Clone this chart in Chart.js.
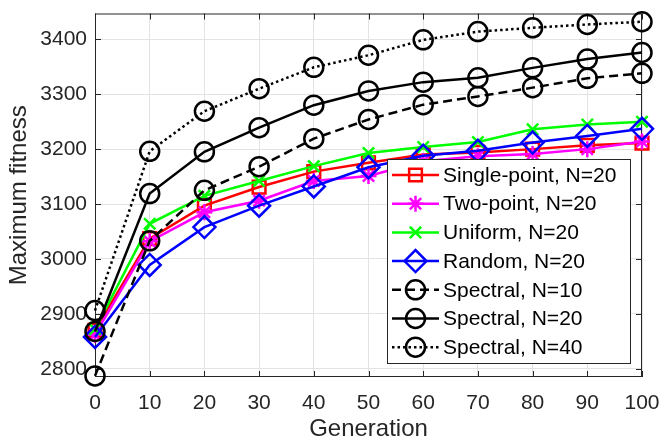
<!DOCTYPE html>
<html>
<head>
<meta charset="utf-8">
<script src="https://cdn.jsdelivr.net/npm/chart.js@4.4.1/dist/chart.umd.min.js"></script>
<style>
html,body{margin:0;padding:0;background:#fff;}
#wrap{width:661px;height:444px;position:relative;}
</style>
</head>
<body>
<div id="wrap"><canvas id="c" width="661" height="444"></canvas></div>
<script>
const generations = [0,10,20,30,40,50,60,70,80,90,100];
const yTicks = [2800,2900,3000,3100,3200,3300,3400];
const seriesNames = ["Single-point, N=20","Two-point, N=20","Uniform, N=20","Random, N=20","Spectral, N=10","Spectral, N=20","Spectral, N=40"];
const singlePoint = [2870,3037,3097,3131,3159,3175,3190,3194,3200,3207,3211];
const twoPoint    = [2862,3032,3085,3106,3142,3151,3178,3187,3191,3200,3214];
const uniform     = [2872,3064,3115,3142,3169,3193,3204,3213,3236,3245,3250];
const randomX     = [2858,2989,3058,3097,3132,3167,3188,3197,3212,3224,3237];
const spectral10  = [2787,3033,3125,3168,3219,3254,3281,3296,3312,3329,3338];
const spectral20  = [2868,3119,3195,3239,3280,3306,3322,3330,3348,3364,3376];
const spectral40  = [2906,3196,3269,3310,3349,3371,3399,3414,3421,3427,3432];

const values = [singlePoint,twoPoint,uniform,randomX,spectral10,spectral20,spectral40];
const styles = [
  {color:'#ff0000', point:'rect', r:9, dash:[]},
  {color:'#ff00ff', point:'star', r:8, dash:[]},
  {color:'#00ff00', point:'crossRot', r:8, dash:[]},
  {color:'#0000ff', point:'rectRot', r:11, dash:[]},
  {color:'#000000', point:'circle', r:9.5, dash:[9,5]},
  {color:'#000000', point:'circle', r:9.5, dash:[]},
  {color:'#000000', point:'circle', r:9.5, dash:[2.5,3]}
];
const FONT = '"Liberation Sans", Arial, Helvetica, sans-serif';
const AX = '#262626';

const datasets = values.map((v,i)=>({
  label: seriesNames[i],
  data: v.map((y,j)=>({x:generations[j], y:y})),
  borderColor: styles[i].color,
  backgroundColor: 'rgba(0,0,0,0)',
  borderWidth: 2.5,
  borderDash: styles[i].dash,
  pointStyle: styles[i].point,
  pointRadius: styles[i].r,
  pointHoverRadius: styles[i].r,
  pointBorderWidth: 2.5,
  pointBorderColor: styles[i].color,
  pointBackgroundColor: 'rgba(0,0,0,0)',
  tension: 0,
  clip: false,
  order: values.length - i
}));

const framePlugin = {
  id: 'frame',
  beforeDatasetsDraw(chart){
    const {ctx, chartArea:a, scales} = chart;
    ctx.save();
    ctx.strokeStyle = AX;
    ctx.lineWidth = 1;
    ctx.strokeRect(a.left+0.5, a.top+0.5, a.right-a.left-1, a.bottom-a.top-1);
    const tl = 6;
    ctx.beginPath();
    scales.x.ticks.forEach(t=>{
      const px = Math.round(scales.x.getPixelForValue(t.value))+0.5;
      ctx.moveTo(px, a.bottom); ctx.lineTo(px, a.bottom - tl);
      ctx.moveTo(px, a.top); ctx.lineTo(px, a.top + tl);
    });
    scales.y.ticks.forEach(t=>{
      const py = Math.round(scales.y.getPixelForValue(t.value))+0.5;
      ctx.moveTo(a.left, py); ctx.lineTo(a.left + tl, py);
      ctx.moveTo(a.right, py); ctx.lineTo(a.right - tl, py);
    });
    ctx.stroke();
    ctx.restore();
  }
};

const legendPlugin = {
  id: 'boxLegend',
  afterDraw(chart){
    const ctx = chart.ctx;
    const bx = 387, by = 159, bw = 243, bh = 204;
    const rowH = 28.7, y0 = by + 16;
    ctx.save();
    ctx.fillStyle = '#ffffff';
    ctx.fillRect(bx, by, bw, bh);
    ctx.strokeStyle = AX;
    ctx.lineWidth = 1;
    ctx.strokeRect(bx+0.5, by+0.5, bw, bh);
    seriesNames.forEach((name,i)=>{
      const s = styles[i];
      const y = y0 + i*rowH;
      const x1 = bx + 5, x2 = bx + 52, xm = (x1+x2)/2;
      ctx.save();
      ctx.strokeStyle = s.color;
      ctx.lineWidth = 2.5;
      ctx.setLineDash(s.dash);
      ctx.beginPath(); ctx.moveTo(x1,y); ctx.lineTo(x2,y); ctx.stroke();
      ctx.setLineDash([]);
      ctx.fillStyle = 'rgba(0,0,0,0)';
      Chart.helpers.drawPoint(ctx, {pointStyle:s.point, radius:s.r, rotation:0, borderWidth:2.5}, xm, y);
      ctx.restore();
      ctx.fillStyle = '#000000';
      ctx.font = '21px ' + FONT;
      ctx.textBaseline = 'middle';
      ctx.textAlign = 'left';
      ctx.fillText(name, bx + 56, y + 1);
    });
    ctx.restore();
  }
};

new Chart(document.getElementById('c'), {
  type: 'line',
  data: { datasets },
  plugins: [framePlugin, legendPlugin],
  options: {
    responsive: false,
    animation: false,
    events: [],
    layout: { padding: { top: 11, right: 19, left: 0, bottom: 0 } },
    plugins: { legend: {display:false}, tooltip: {enabled:false} },
    scales: {
      x: {
        type: 'linear', min: 0, max: 100,
        afterBuildTicks(s){ s.ticks = generations.map(v=>({value:v})); },
        afterFit(s){ s.height = 67; s.paddingLeft = 0; s.paddingRight = 0; },
        grid: { color: '#e3e3e3', lineWidth: 1, drawTicks: false },
        border: { display: false },
        ticks: { color: AX, font: { family: FONT, size: 21 }, padding: 14, maxRotation: 0, autoSkip: false,
                 callback: v => String(v) },
        title: { display: true, text: 'Generation', color: AX, font: { family: FONT, size: 24 }, padding: { top: 0, bottom: 0 } }
      },
      y: {
        type: 'linear', min: 2785, max: 3447,
        afterBuildTicks(s){ s.ticks = yTicks.map(v=>({value:v})); },
        afterFit(s){ s.width = 95; s.paddingTop = 0; s.paddingBottom = 0; },
        grid: { color: '#e3e3e3', lineWidth: 1, drawTicks: false },
        border: { display: false },
        ticks: { color: AX, font: { family: FONT, size: 21 }, padding: 8, callback: v => String(v) },
        title: { display: true, text: 'Maximum fitness', color: AX, font: { family: FONT, size: 24 }, padding: { top: 5, bottom: 4 } }
      }
    }
  }
});
</script>
</body>
</html>
